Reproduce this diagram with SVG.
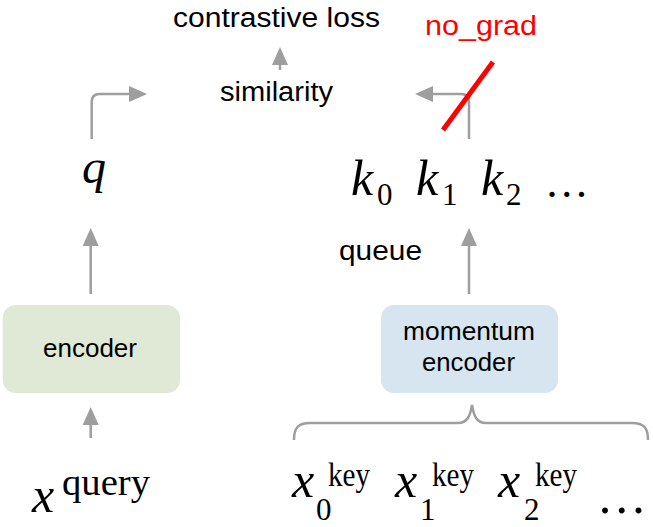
<svg xmlns="http://www.w3.org/2000/svg" width="653" height="527" viewBox="0 0 653 527">
<style>
.sans{font-family:"Liberation Sans",Arial,Helvetica,sans-serif;fill:#000}
.mi{font-family:"Liberation Serif","Times New Roman",serif;font-style:italic;fill:#000}
.rm{font-family:"Liberation Serif","Times New Roman",serif;fill:#000}
.sub{font-family:"Liberation Serif","Times New Roman",serif;fill:#000;font-size:31px}
.conn{fill:none;stroke:#9e9e9e;stroke-width:2.5}
</style>
<defs>
<marker id="ah" markerUnits="userSpaceOnUse" markerWidth="18" markerHeight="16" refX="14" refY="8" orient="auto">
<path d="M0,0 L18,8 L0,16 z" fill="#9e9e9e"/>
</marker>
</defs>
<rect width="653" height="527" fill="#fff"/>
<g id="connectors">
<path class="conn" d="M280,70 V51" marker-end="url(#ah)"/>
<path class="conn" d="M91.7,139 V102 Q91.7,94 99.7,94 H143" marker-end="url(#ah)"/>
<path class="conn" d="M469,139 V102 Q469,94 461,94 H419" marker-end="url(#ah)"/>
<path class="conn" d="M90.7,294 V232" marker-end="url(#ah)"/>
<path class="conn" d="M90.7,438 V411" marker-end="url(#ah)"/>
<path class="conn" d="M469,294 V232" marker-end="url(#ah)"/>
<path class="conn" d="M294,440 C294,428 298,423 310,423 H458 C466,423 470,418 472,405 C474,418 478,423 486,423 H632 C644,423 648,428 648,440"/>
<line x1="493" y1="62" x2="443" y2="130" stroke="#ff0000" stroke-width="5"/>
</g>
<g id="contrastive-loss"><text class="sans" x="173" y="27" font-size="27" textLength="207" lengthAdjust="spacingAndGlyphs">contrastive loss</text></g>
<g id="similarity"><text class="sans" x="220" y="101" font-size="27" textLength="113" lengthAdjust="spacingAndGlyphs">similarity</text></g>
<g id="no-grad"><text x="425" y="35" font-size="27" textLength="112" lengthAdjust="spacingAndGlyphs" style="font-family:'Liberation Sans',Arial,sans-serif;fill:#ff0000">no_grad</text></g>
<g id="q"><text class="mi" x="82" y="183" font-size="48">q</text></g>
<g id="keys">
<text class="mi" x="351" y="195" font-size="50">k</text><text class="sub" x="377" y="205">0</text>
<text class="mi" x="416" y="195" font-size="50">k</text><text class="sub" x="442" y="205">1</text>
<text class="mi" x="481" y="195" font-size="50">k</text><text class="sub" x="506" y="205">2</text>
<text class="rm" x="544.7" y="197" font-size="44">…</text>
</g>
<g id="queue"><text class="sans" x="339" y="260" font-size="28" textLength="83" lengthAdjust="spacingAndGlyphs">queue</text></g>
<g id="encoder">
<rect x="2.7" y="305" width="177.3" height="88" rx="13" fill="#dfe9d5"/>
<text class="sans" x="43" y="357" font-size="26" textLength="94" lengthAdjust="spacingAndGlyphs">encoder</text>
</g>
<g id="momentum-encoder">
<rect x="381" y="305" width="177" height="88" rx="13" fill="#d6e5ef"/>
<text class="sans" x="403" y="340" font-size="26" textLength="132" lengthAdjust="spacingAndGlyphs">momentum</text>
<text class="sans" x="422" y="371" font-size="26" textLength="93" lengthAdjust="spacingAndGlyphs">encoder</text>
</g>
<g id="x-query">
<text class="mi" x="32" y="512" font-size="50">x</text>
<text class="rm" x="62" y="495" font-size="38" textLength="88" lengthAdjust="spacingAndGlyphs">query</text>
</g>
<g id="x-keys">
<text class="mi" x="292" y="497" font-size="50">x</text><text class="sub" x="316" y="520">0</text><text class="rm" x="328" y="486" font-size="34" textLength="42" lengthAdjust="spacingAndGlyphs">key</text>
<text class="mi" x="395" y="497" font-size="50">x</text><text class="sub" x="420" y="520">1</text><text class="rm" x="432" y="486" font-size="34" textLength="42" lengthAdjust="spacingAndGlyphs">key</text>
<text class="mi" x="498" y="497" font-size="50">x</text><text class="sub" x="524" y="520">2</text><text class="rm" x="535" y="486" font-size="34" textLength="42" lengthAdjust="spacingAndGlyphs">key</text>
<text class="rm" x="596.7" y="513" font-size="50">…</text>
</g>
</svg>
